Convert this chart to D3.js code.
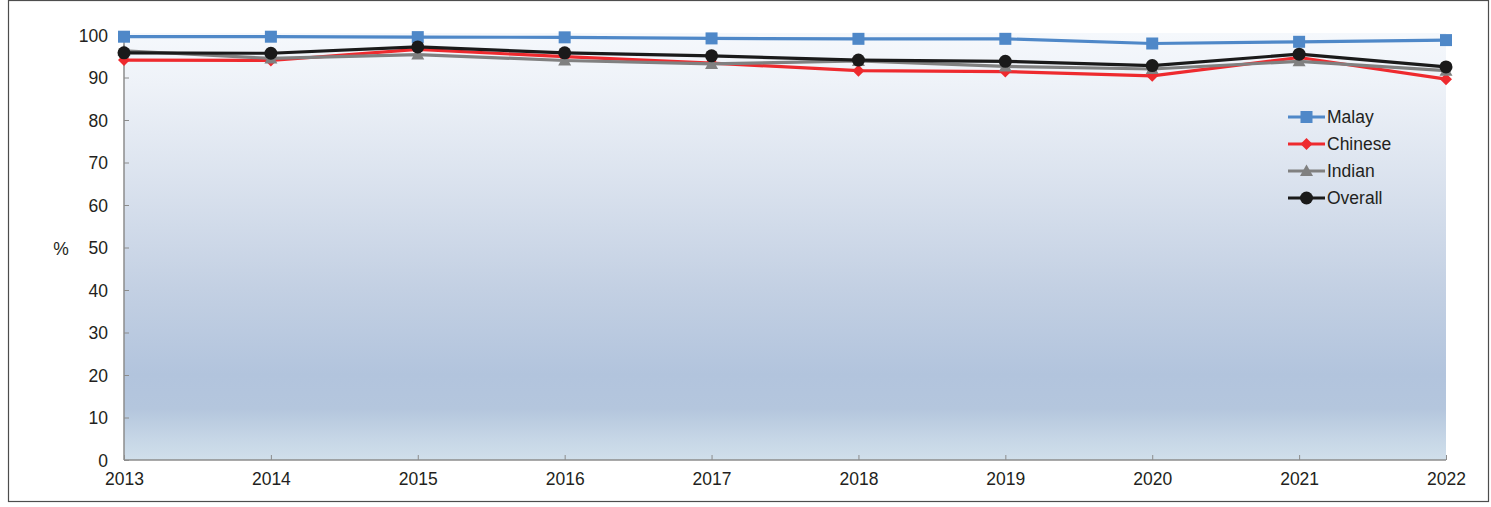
<!DOCTYPE html>
<html><head><meta charset="utf-8">
<script src="https://cdn.jsdelivr.net/npm/d3@7"></script>
<style>body{margin:0;background:#fff;}svg{display:block;}text{font-family:"Liberation Sans",Arial,sans-serif;fill:#231f20;}</style>
</head><body><svg id="c" width="1491" height="507"></svg>
<script>
const years = [2013,2014,2015,2016,2017,2018,2019,2020,2021,2022];
const malay   = [99.6,99.6,99.5,99.45,99.2,99.1,99.1,98.0,98.4,98.8];
const chinese = [94.1,94.0,96.6,94.9,93.4,91.6,91.4,90.4,94.7,89.6];
const indian  = [96.3,94.5,95.4,94.0,93.2,93.9,92.6,92.0,93.8,91.6];
const overall = [95.8,95.7,97.2,95.8,95.1,94.1,93.8,92.8,95.5,92.5];
const yTicks = [0,10,20,30,40,50,60,70,80,90,100];
const seriesNames = ["Malay","Chinese","Indian","Overall"];

const series = [
  {name:seriesNames[0], values:malay, color:"#4f88c8", marker:"square"},
  {name:seriesNames[1], values:chinese, color:"#ee2a2e", marker:"diamond"},
  {name:seriesNames[2], values:indian, color:"#808080", marker:"triangle"},
  {name:seriesNames[3], values:overall, color:"#1a1a1a", marker:"circle"}
];

const svg = d3.select("#c");
const L = 124, R = 1446, T = 35, B = 460;
const FS = "17.5px";
const x = d3.scaleLinear().domain([years[0], years[years.length-1]]).range([L,R]);
const y = d3.scaleLinear().domain([0,100]).range([B,T]);

// frame
svg.append("rect").attr("x",8.5).attr("y",0.5).attr("width",1480).attr("height",501)
  .attr("fill","none").attr("stroke","#4d4d4d").attr("stroke-width",1.2);

// gradient background
const defs = svg.append("defs");
const g = defs.append("linearGradient").attr("id","bg").attr("x1",0).attr("y1",0).attr("x2",0).attr("y2",1);
[[0,"#f5f8fc"],[0.12,"#eef2f8"],[0.35,"#dae2ee"],[0.6,"#c3d0e3"],[0.8,"#b2c4dd"],[0.88,"#b4c6dd"],[0.95,"#c6d6e6"],[1,"#d0dfeb"]]
  .forEach(([o,c])=>g.append("stop").attr("offset",o).attr("stop-color",c));
svg.append("rect").attr("x",L).attr("y",T-2).attr("width",R-L).attr("height",B-T+2).attr("fill","url(#bg)");

// axes
const yAxis = d3.axisLeft(y).tickValues(yTicks).tickSize(-5).tickPadding(16);
const ya = svg.append("g").attr("transform",`translate(${L},0)`).call(yAxis);
ya.select(".domain").attr("stroke","#8c8c8c").attr("stroke-width",1.5).attr("d",`M0,${B}V${T}`);
ya.selectAll(".tick line").attr("stroke","#8c8c8c");
ya.selectAll("text").style("font-size",FS).attr("fill","#231f20").attr("dy","0.35em");

const xAxis = d3.axisBottom(x).tickValues(years).tickFormat(d3.format("d")).tickSize(-5).tickPadding(13);
const xa = svg.append("g").attr("transform",`translate(0,${B})`).call(xAxis);
xa.select(".domain").attr("stroke","#8c8c8c").attr("stroke-width",1.5).attr("d",`M${L},0H${R}`);
xa.selectAll(".tick line").attr("stroke","#8c8c8c");
xa.selectAll("text").style("font-size",FS).attr("fill","#231f20");

svg.append("text").attr("x",61).attr("y",249).attr("dy","0.35em").attr("text-anchor","middle").style("font-size",FS).text("%");

// markers
function drawMarker(sel, type, color, cx, cy){
  if(type==="square") sel.append("rect").attr("x",cx-6).attr("y",cy-6).attr("width",12).attr("height",12).attr("fill",color);
  else if(type==="circle") sel.append("circle").attr("cx",cx).attr("cy",cy).attr("r",6.5).attr("fill",color);
  else if(type==="diamond") sel.append("path").attr("d",`M${cx},${cy-6}L${cx+6},${cy}L${cx},${cy+6}L${cx-6},${cy}Z`).attr("fill",color);
  else if(type==="triangle") sel.append("path").attr("d",`M${cx},${cy-6.5}L${cx+6.5},${cy+5}L${cx-6.5},${cy+5}Z`).attr("fill",color);
}

const line = d3.line().x((d,i)=>x(years[i])).y(d=>y(d));
series.forEach(s=>{
  const gs = svg.append("g");
  gs.append("path").attr("d",line(s.values)).attr("fill","none").attr("stroke",s.color).attr("stroke-width",3.2).attr("stroke-linejoin","round");
  s.values.forEach((v,i)=>drawMarker(gs,s.marker,s.color,x(years[i]),y(v)));
});

// legend
const lg = svg.append("g");
series.forEach((s,i)=>{
  const cy = 117 + i*27;
  lg.append("line").attr("x1",1288).attr("x2",1325).attr("y1",cy).attr("y2",cy).attr("stroke",s.color).attr("stroke-width",3.2);
  drawMarker(lg,s.marker,s.color,1306.5,cy);
  lg.append("text").attr("x",1327).attr("y",cy).attr("dy","0.35em").style("font-size",FS).text(s.name);
});
</script></body></html>
